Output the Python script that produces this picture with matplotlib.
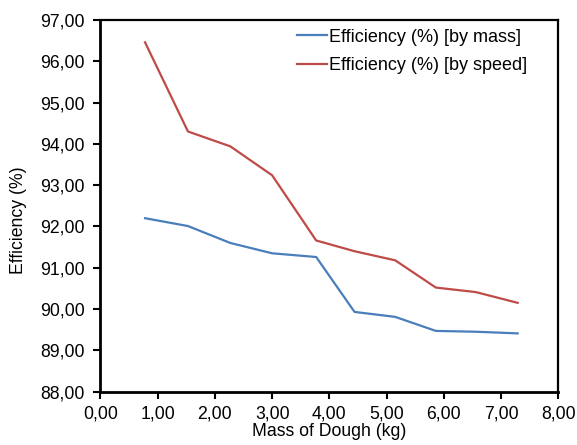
import matplotlib.pyplot as plt
from matplotlib.ticker import FuncFormatter, MultipleLocator

plt.rcParams['font.family'] = ['Liberation Sans', 'DejaVu Sans']

# values
mass_kg = [0.78, 1.53, 2.27, 3.00, 3.77, 4.44, 5.15, 5.86, 6.56, 7.29]
eff_by_mass = [92.20, 92.01, 91.60, 91.35, 91.26, 89.93, 89.81, 89.47, 89.45, 89.41]
eff_by_speed = [96.46, 94.30, 93.94, 93.24, 91.66, 91.40, 91.18, 90.52, 90.41, 90.15]

fig = plt.figure(figsize=(5.77, 4.45), dpi=100)
ax = fig.add_axes([0.174, 0.120, 0.7936, 0.835])

ax.plot(mass_kg, eff_by_mass, color='#4A7EBB', lw=1.6, label='Efficiency (%) [by mass]')
ax.plot(mass_kg, eff_by_speed, color='#BE4B48', lw=1.6, label='Efficiency (%) [by speed]')

ax.set_xlim(0, 8)
ax.set_ylim(88, 97)
ax.xaxis.set_major_locator(MultipleLocator(1))
ax.yaxis.set_major_locator(MultipleLocator(1))
comma = FuncFormatter(lambda v, p: f'{v:.2f}'.replace('.', ','))
ax.xaxis.set_major_formatter(comma)
ax.yaxis.set_major_formatter(comma)
fs = 12.7
ax.tick_params(labelsize=fs, width=1.5, length=5, direction='out')
ax.tick_params(axis='x', pad=5)
ax.tick_params(axis='y', pad=6)

for s in ax.spines.values():
    s.set_linewidth(1.6)
ax.spines['left'].set_linewidth(2.0)
ax.spines['bottom'].set_linewidth(2.0)

ax.set_xlabel('Mass of Dough (kg)', fontsize=fs)
ax.xaxis.set_label_coords(0.5, -0.085)
ax.set_ylabel('Efficiency (%)', fontsize=fs)
ax.yaxis.set_label_coords(-0.16, 0.46)

ax.legend(loc='upper left', bbox_to_anchor=(0.43, 0.977), frameon=False, fontsize=13,
          handlelength=1.65, handletextpad=0.12, labelspacing=0.65,
          borderpad=0, borderaxespad=0)

fig.savefig('out.png', dpi=100)
